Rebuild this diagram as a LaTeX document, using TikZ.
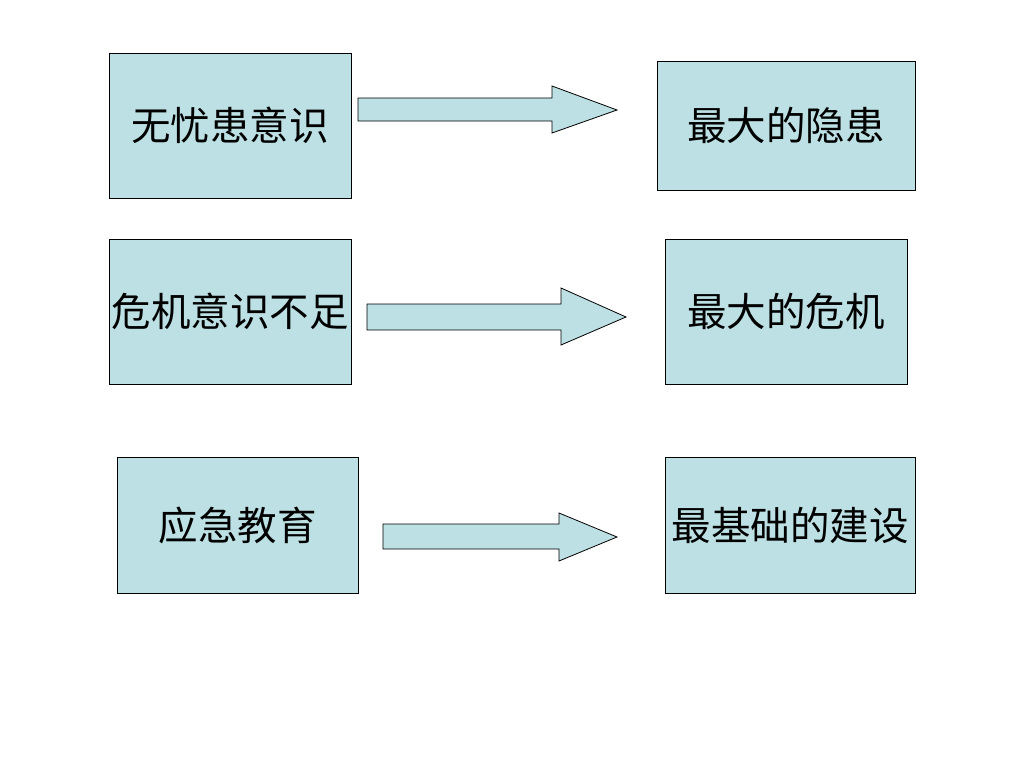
\documentclass[tikz,border=0pt]{standalone}
\usepackage{fontspec}
\newfontfamily\cjk{Noto Sans CJK SC}
\definecolor{boxblue}{RGB}{188,224,227}
\tikzset{
	box/.style={draw, fill=boxblue, line width=0.8pt, inner sep=0pt, font=\cjk\fontsize{39.5}{42}\selectfont},
	blockarrow/.style={draw, fill=boxblue, line width=0.8pt, line join=miter}
}
\begin{document}
\begin{tikzpicture}[x=1pt, y=-1pt]
		\useasboundingbox (0,0) rectangle (1024,768);

		\node[box, minimum width=242pt, minimum height=145pt] (A) at (230, 125.5) {无忧患意识};
		\node[box, minimum width=258pt, minimum height=129pt] (B) at (786, 125.5) {最大的隐患};
		\node[box, minimum width=242pt, minimum height=145pt] (C) at (230, 311.5) {危机意识不足};
		\node[box, minimum width=242pt, minimum height=145pt] (D) at (786, 311.5) {最大的危机};
		\node[box, minimum width=241pt, minimum height=136pt] (E) at (237.5, 525) {应急教育};
		\node[box, minimum width=250pt, minimum height=136pt] (F) at (790, 525) {最基础的建设};

		\draw[blockarrow] (358,98) -- (552,98) -- (552,86) -- (617,110) -- (552,133) -- (552,121) -- (358,121) -- cycle;
		\draw[blockarrow] (367,304) -- (561,304) -- (561,288) -- (626,317) -- (561,345) -- (561,330) -- (367,330) -- cycle;
		\draw[blockarrow] (383,524) -- (559,524) -- (559,513) -- (617,537) -- (559,561) -- (559,549) -- (383,549) -- cycle;

	\end{tikzpicture}
\end{document}
